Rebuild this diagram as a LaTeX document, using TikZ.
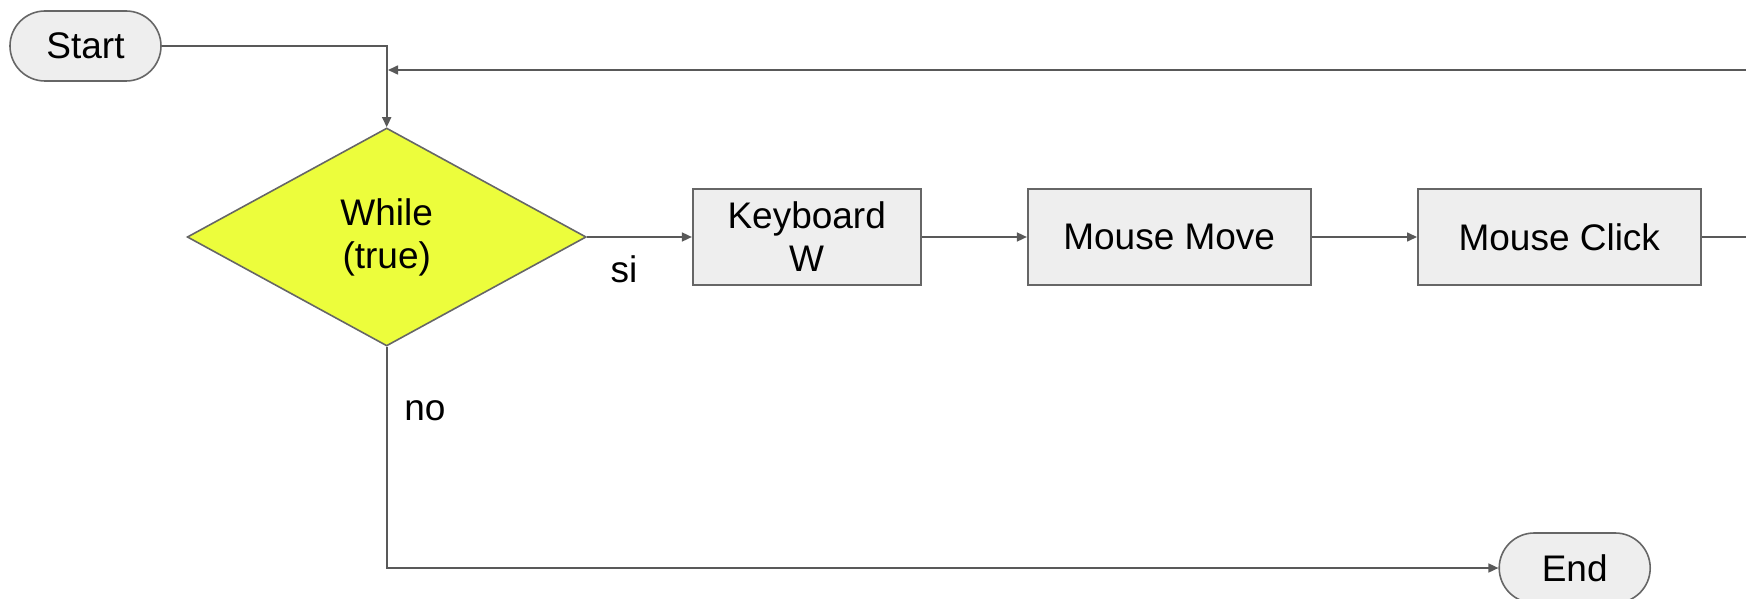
\documentclass[tikz,border=0pt]{standalone}
\usepackage{fontspec}
\setmainfont{Liberation Sans}
\usetikzlibrary{shapes.geometric,shapes.misc,arrows.meta}
\definecolor{linegray}{RGB}{89,89,89}
\definecolor{boxfill}{RGB}{238,238,238}
\definecolor{boxdraw}{RGB}{102,102,102}
\definecolor{yel}{RGB}{236,253,60}
\tikzset{
  every node/.style={font=\fontsize{37}{43}\selectfont},
  term/.style={rounded rectangle, draw=boxdraw, fill=boxfill, line width=1.6pt, minimum width=151pt, minimum height=70pt, inner sep=0pt},
  proc/.style={rectangle, draw=boxdraw, fill=boxfill, line width=1.6pt, minimum height=96pt, inner sep=0pt, align=center},
  dec/.style={diamond, draw=boxdraw, fill=yel, line width=1.6pt, minimum width=399pt, minimum height=218pt, inner sep=0pt, aspect=1.83, align=center},
  conn/.style={draw=linegray, line width=1.6pt},
  arr/.style={conn, -{Triangle[length=10pt,width=9pt]}},
  lbl/.style={inner sep=0pt}
}
\begin{document}
\begin{tikzpicture}[x=1pt,y=-1pt]
\useasboundingbox (0,0) rectangle (1746,599);
\clip (0,0) rectangle (1746,599);
\node[term] (start) at (85.5,46) {Start};
\node[dec] (while) at (386.7,237) {While\\(true)};
\node[proc, minimum width=228pt] (kb) at (806.7,237) {Keyboard\\W};
\node[proc, minimum width=283pt] (move) at (1169.2,237) {Mouse Move};
\node[proc, minimum width=283pt] (click) at (1559.3,237) {Mouse Click};
\node[term] (end) at (1574.7,568) {End};
\coordinate (r1) at (1770,237);
\coordinate (r2) at (1770,70);
\coordinate (loopin) at (388,70);
\node[lbl] (si) at (624,269) {si};
\node[lbl] (no) at (425,411) {no};
\draw[arr] (start.east) -| (while.north);
\draw[arr] (click.east) -- (r1) -- (r2) -- (loopin);
\draw[arr] (while.east) -- (kb.west);
\draw[arr] (kb.east) -- (move.west);
\draw[arr] (move.east) -- (click.west);
\draw[arr] (while.south) |- (end.west);
\end{tikzpicture}
\end{document}
